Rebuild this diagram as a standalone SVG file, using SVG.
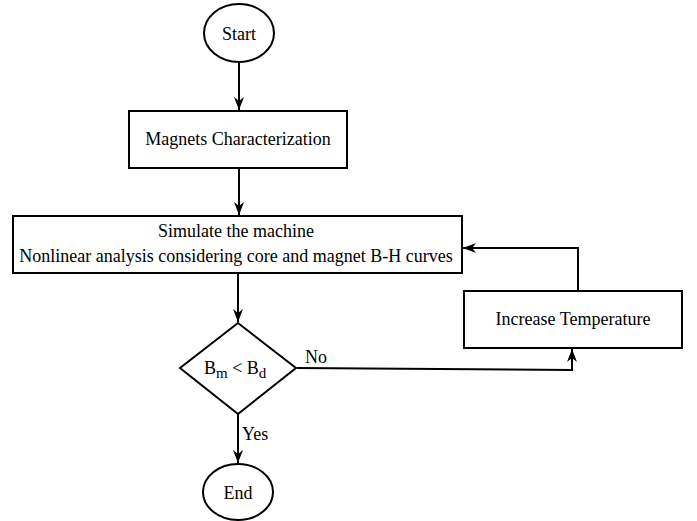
<svg xmlns="http://www.w3.org/2000/svg" width="697" height="521" viewBox="0 0 697 521">
<style>
.s{fill:#fff;stroke:#000;stroke-width:2}
.t{font-family:"Liberation Serif","Times New Roman",serif;font-size:18px;fill:#000;text-anchor:middle}
.l{font-family:"Liberation Serif","Times New Roman",serif;font-size:18px;fill:#000}
.c{fill:none;stroke:#000;stroke-width:2}
</style>
<defs>
<marker id="a" viewBox="0 0 13 10" refX="13" refY="5" markerWidth="13" markerHeight="10" orient="auto" markerUnits="userSpaceOnUse">
<path d="M0,0 L13,5 L0,10 L4,5 Z" fill="#000"/>
</marker>
</defs>
<g id="connectors">
<path class="c" d="M239,63 L239,110" marker-end="url(#a)"/>
<path class="c" d="M239,168 L239,215" marker-end="url(#a)"/>
<path class="c" d="M238,273 L238,322" marker-end="url(#a)"/>
<path class="c" d="M238,414 L238,463" marker-end="url(#a)"/>
<path class="c" d="M297,368 L572,370 L572,349" marker-end="url(#a)"/>
<path class="c" d="M578,291 L578,248 L463,248" marker-end="url(#a)"/>
<text class="l" x="305" y="363">No</text>
<text class="l" x="242" y="440">Yes</text>
</g>
<g id="start">
<ellipse class="s" cx="239" cy="33" rx="35" ry="29"/>
<text class="t" x="239" y="40">Start</text>
</g>
<g id="magnets">
<rect class="s" x="129" y="111" width="218" height="57"/>
<text class="t" x="238" y="145">Magnets Characterization</text>
</g>
<g id="simulate">
<rect class="s" x="13" y="216" width="449" height="57"/>
<text class="t" x="236" y="237">Simulate the machine</text>
<text class="t" x="236" y="262">Nonlinear analysis considering core and magnet B-H curves</text>
</g>
<g id="decision">
<path class="s" d="M238,323 L296,368 L238,414 L180,368 Z"/>
<text class="l" x="204" y="374">B<tspan font-size="15" dy="4">m</tspan><tspan dy="-4"> &lt; B</tspan><tspan font-size="15" dy="4">d</tspan></text>
</g>
<g id="increase">
<rect class="s" x="464" y="291" width="218" height="57"/>
<text class="t" x="573" y="325">Increase Temperature</text>
</g>
<g id="end">
<ellipse class="s" cx="238" cy="492" rx="35" ry="28"/>
<text class="t" x="238" y="499">End</text>
</g>
</svg>
